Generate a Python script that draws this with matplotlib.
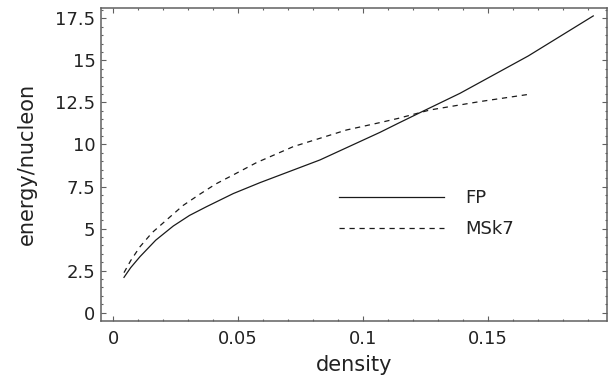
import matplotlib
matplotlib.use("Agg")
import matplotlib.pyplot as plt
from matplotlib.ticker import MultipleLocator

# values
fp_density = [0.0043, 0.007, 0.0107, 0.017, 0.024, 0.0305, 0.0373, 0.048, 0.0587,
              0.0827, 0.1067, 0.114, 0.1227, 0.1387, 0.166, 0.192]
fp_energy = [2.10, 2.68, 3.33, 4.31, 5.15, 5.78, 6.30, 7.08, 7.73,
             9.08, 10.72, 11.26, 11.89, 13.04, 15.26, 17.64]

msk7_density = [0.0043, 0.007, 0.0107, 0.0155, 0.0213, 0.028, 0.0347, 0.041, 0.048,
                0.0573, 0.072, 0.0933, 0.1067, 0.114, 0.1267, 0.1467, 0.1663]
msk7_energy = [2.38, 3.10, 3.92, 4.75, 5.51, 6.38, 7.05, 7.65, 8.19,
               8.92, 9.87, 10.86, 11.30, 11.55, 12.05, 12.55, 12.98]

series_labels = ["FP", "MSk7"]
x_ticks = [0, 0.05, 0.1, 0.15]
x_tick_labels = ["0", "0.05", "0.1", "0.15"]
y_ticks = [0, 2.5, 5, 7.5, 10, 12.5, 15, 17.5]
y_tick_labels = ["0", "2.5", "5", "7.5", "10", "12.5", "15", "17.5"]

plt.rcParams["font.family"] = "DejaVu Sans"

fig = plt.figure(figsize=(6.15, 3.78), dpi=100)
ax = fig.add_axes([0.1642, 0.1516, 0.8228, 0.8272])

line_col = "#1a1a1a"
frame_col = "#606060"

ax.plot(fp_density, fp_energy, color=line_col, lw=0.9, label=series_labels[0])
ax.plot(msk7_density, msk7_energy, color=line_col, lw=0.9,
        linestyle=(0, (4.2, 3.8)), label=series_labels[1])

ax.set_xlim(-0.0049, 0.1975)
ax.set_ylim(-0.476, 18.11)

ax.set_xticks(x_ticks)
ax.set_xticklabels(x_tick_labels)
ax.set_yticks(y_ticks)
ax.set_yticklabels(y_tick_labels)
ax.xaxis.set_minor_locator(MultipleLocator(0.01))
ax.yaxis.set_minor_locator(MultipleLocator(0.5))

ax.tick_params(which="both", direction="in", top=True, right=True,
               color=frame_col, width=0.8, labelsize=13, labelcolor="#222222")
ax.tick_params(which="major", length=3.3)
ax.tick_params(which="minor", length=1.6)
ax.tick_params(axis="x", which="major", pad=6.5)
ax.tick_params(axis="y", which="major", pad=4)

for sp in ax.spines.values():
    sp.set_color(frame_col)
    sp.set_linewidth(1.1)

ax.set_xlabel("density", fontsize=15, color="#222222", labelpad=5)
ax.set_ylabel("energy/nucleon", fontsize=15, color="#222222", labelpad=13)

ax.legend(loc="center left", bbox_to_anchor=(0.470, 0.343), frameon=False,
          fontsize=13, handlelength=5.8, handletextpad=1.2, labelspacing=0.72,
          borderpad=0, borderaxespad=0, labelcolor="#222222")

fig.savefig("out.png", dpi=100)
